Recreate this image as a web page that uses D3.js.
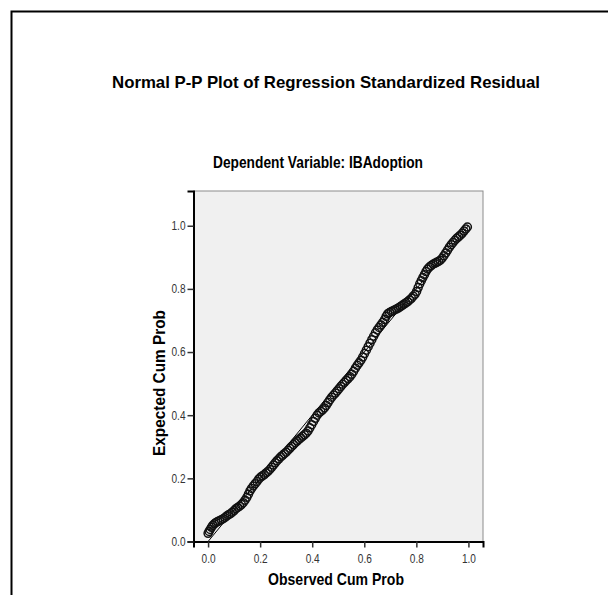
<!DOCTYPE html>
<html>
<head>
<meta charset="utf-8">
<script src="https://cdn.jsdelivr.net/npm/d3@7"></script>
<style>
  body { margin: 0; background: #fff; }
  text { font-family: "Liberation Sans", Arial, sans-serif; }
</style>
</head>
<body>
<div id="chart"></div>
<script>
// observed vs expected cumulative probabilities
var observed = [
  0.000, 0.004, 0.008, 0.013, 0.018, 0.024, 0.030, 0.037, 0.044, 0.051,
  0.058, 0.065, 0.072, 0.079, 0.086, 0.093, 0.100, 0.107, 0.114, 0.121,
  0.128, 0.135, 0.142, 0.149, 0.155, 0.161, 0.167, 0.174, 0.181, 0.188,
  0.195, 0.202, 0.209, 0.216, 0.223, 0.230, 0.237, 0.244, 0.251, 0.258,
  0.265, 0.272, 0.279, 0.286, 0.293, 0.300, 0.307, 0.314, 0.321, 0.328,
  0.335, 0.342, 0.349, 0.356, 0.363, 0.370, 0.377, 0.384, 0.391, 0.398,
  0.405, 0.412, 0.419, 0.426, 0.433, 0.440, 0.447, 0.454, 0.461, 0.468,
  0.475, 0.482, 0.489, 0.496, 0.503, 0.510, 0.517, 0.524, 0.531, 0.538,
  0.545, 0.552, 0.559, 0.566, 0.573, 0.580, 0.587, 0.594, 0.601, 0.608,
  0.615, 0.622, 0.629, 0.636, 0.643, 0.650, 0.657, 0.664, 0.671, 0.678,
  0.684, 0.690, 0.697, 0.704, 0.711, 0.718, 0.725, 0.732, 0.739, 0.746,
  0.753, 0.760, 0.767, 0.774, 0.781, 0.788, 0.795, 0.801, 0.807, 0.813,
  0.819, 0.825, 0.831, 0.837, 0.843, 0.850, 0.857, 0.864, 0.871, 0.878,
  0.885, 0.892, 0.899, 0.906, 0.913, 0.920, 0.927, 0.934, 0.941, 0.948,
  0.955, 0.962, 0.969, 0.976, 0.983, 0.990, 0.996
];
var expected = [
  0.026, 0.032, 0.038, 0.045, 0.051, 0.056, 0.060, 0.063, 0.066, 0.069,
  0.072, 0.076, 0.081, 0.085, 0.088, 0.093, 0.098, 0.104, 0.108, 0.112,
  0.117, 0.123, 0.131, 0.140, 0.150, 0.160, 0.168, 0.176, 0.183, 0.190,
  0.198, 0.204, 0.208, 0.212, 0.217, 0.222, 0.228, 0.235, 0.242, 0.249,
  0.256, 0.262, 0.268, 0.273, 0.278, 0.283, 0.289, 0.295, 0.301, 0.307,
  0.313, 0.318, 0.323, 0.328, 0.333, 0.338, 0.343, 0.350, 0.360, 0.370,
  0.380, 0.390, 0.400, 0.407, 0.412, 0.417, 0.423, 0.431, 0.440, 0.449,
  0.457, 0.464, 0.470, 0.477, 0.484, 0.491, 0.498, 0.504, 0.510, 0.516,
  0.522, 0.530, 0.539, 0.549, 0.558, 0.566, 0.574, 0.584, 0.595, 0.606,
  0.617, 0.628, 0.639, 0.650, 0.661, 0.670, 0.678, 0.686, 0.694, 0.703,
  0.713, 0.721, 0.725, 0.728, 0.731, 0.734, 0.737, 0.740, 0.744, 0.748,
  0.752, 0.756, 0.760, 0.765, 0.770, 0.777, 0.783, 0.792, 0.804, 0.816,
  0.826, 0.836, 0.845, 0.855, 0.863, 0.869, 0.874, 0.878, 0.881, 0.884,
  0.887, 0.891, 0.897, 0.905, 0.914, 0.923, 0.932, 0.940, 0.947, 0.954,
  0.960, 0.965, 0.970, 0.976, 0.983, 0.990, 0.996
];
var ticks = [0.0, 0.2, 0.4, 0.6, 0.8, 1.0];

var title = "Normal P-P Plot of Regression Standardized Residual";
var subtitle = "Dependent Variable: IBAdoption";
var xLabel = "Observed Cum Prob";
var yLabel = "Expected Cum Prob";

var W = 608, H = 595;
var svg = d3.select("#chart").append("svg")
  .attr("width", W).attr("height", H);

// outer frame (runs off the right and bottom edges)
svg.append("rect")
  .attr("x", 11.5).attr("y", 11.5)
  .attr("width", 700).attr("height", 700)
  .attr("fill", "none").attr("stroke", "#000").attr("stroke-width", 2);

var x = d3.scaleLinear().domain([-0.056, 1.056]).range([193.5, 483]);
var y = d3.scaleLinear().domain([0, 1.11]).range([541.5, 191]);

// plot background + light border
svg.append("rect")
  .attr("x", x(-0.056)).attr("y", y(1.11))
  .attr("width", x(1.056) - x(-0.056))
  .attr("height", y(0) - y(1.11))
  .attr("fill", "#f0f0f0")
  .attr("stroke", "#8c8c8c").attr("stroke-width", 1);

// reference line
svg.append("line")
  .attr("x1", x(0)).attr("y1", y(0))
  .attr("x2", x(1)).attr("y2", y(1))
  .attr("stroke", "#000").attr("stroke-width", 1);

// points
var pts = observed.map(function (d, i) { return [d, expected[i]]; });
svg.append("g").selectAll("circle")
  .data(pts).enter().append("circle")
  .attr("cx", function (d) { return x(d[0]); })
  .attr("cy", function (d) { return y(d[1]); })
  .attr("r", 4)
  .attr("fill", "none")
  .attr("stroke", "#111")
  .attr("stroke-width", 1.5);

// axes
var xAxis = d3.axisBottom(x).tickValues(ticks).tickFormat(d3.format(".1f"))
  .tickSizeOuter(0).tickSize(6).tickPadding(7);
var yAxis = d3.axisLeft(y).tickValues(ticks).tickFormat(d3.format(".1f"))
  .tickSizeOuter(0).tickSize(6).tickPadding(2);

var gx = svg.append("g").attr("transform", "translate(0," + y(0) + ")").call(xAxis);
var gy = svg.append("g").attr("transform", "translate(" + x(-0.056) + ",0)").call(yAxis);

[gx, gy].forEach(function (g) {
  g.select(".domain").attr("stroke", "#000").attr("stroke-width", 2);
  g.selectAll(".tick line").attr("stroke", "#333").attr("stroke-width", 1.5);
  g.selectAll(".tick text")
    .style("font-family", "'Liberation Sans', Arial, sans-serif")
    .style("font-size", "12px").attr("fill", "#333")
    .attr("textLength", 14).attr("lengthAdjust", "spacingAndGlyphs");
});

// titles (narrow look of the original forced by textLength)
function label(txt, len, tr) {
  svg.append("text")
    .attr("transform", tr)
    .attr("text-anchor", "middle")
    .attr("textLength", len).attr("lengthAdjust", "spacingAndGlyphs")
    .style("font-size", "17px").style("font-weight", "bold")
    .text(txt);
}
label(title, 428, "translate(326,87.5)");
label(subtitle, 210, "translate(318,167.5)");
label(xLabel, 136, "translate(336,585)");
label(yLabel, 146, "translate(165,383)rotate(-90)");
</script>
</body>
</html>
